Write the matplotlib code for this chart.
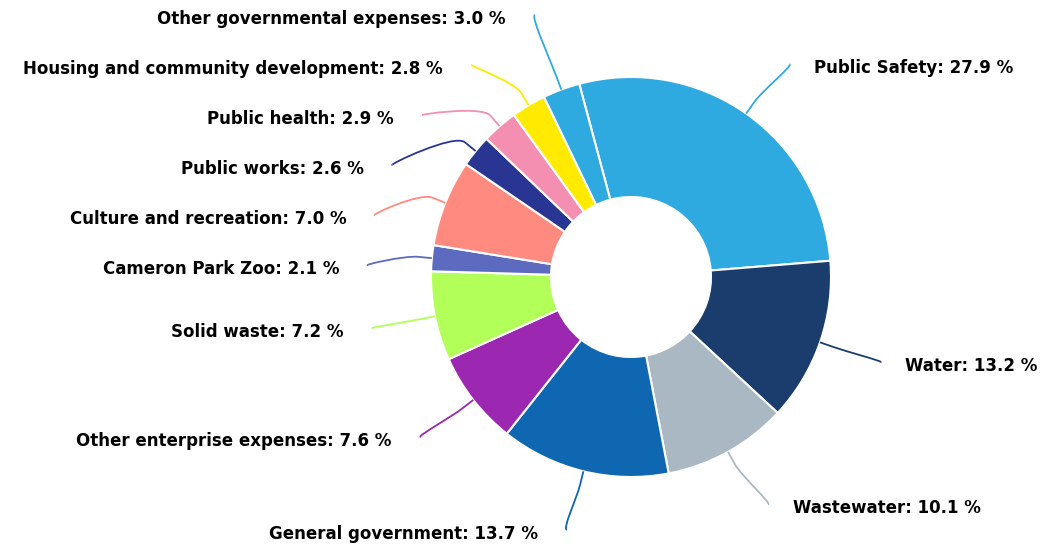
import numpy as np
import matplotlib.pyplot as plt
from matplotlib.path import Path
from matplotlib.patches import PathPatch

# === Data ===
categories = ["Public Safety", "Water", "Wastewater", "General government",
              "Other enterprise expenses", "Solid waste", "Cameron Park Zoo",
              "Culture and recreation", "Public works", "Public health",
              "Housing and community development", "Other governmental expenses"]
shares = [27.9, 13.2, 10.1, 13.7, 7.6, 7.2, 2.1, 7.0, 2.6, 2.9, 2.8, 3.0]
colors = ["#2eaae1", "#1b3d6d", "#a9b8c2", "#0e67b0", "#9c27b0", "#b2ff59",
          "#5c6bc0", "#ff8a80", "#283593", "#f48fb1", "#ffea00", "#2eaae1"]

# === Layout (pixels) ===
W, H = 1045, 545
cx, cy = 631, H - 277
R = 200


def spread(targets, step=50, lo=15, hi=530):
    # merge overlapping labels into blocks placed around their targets
    blocks = [[t] for t in targets]
    while True:
        pos = []
        for b in blocks:
            p = np.mean([t - k * step for k, t in enumerate(b)])
            pos.append(min(max(p, lo), hi - (len(b) - 1) * step))
        for i in range(len(blocks) - 1):
            if pos[i] + len(blocks[i]) * step > pos[i + 1]:
                blocks[i] = blocks[i] + blocks.pop(i + 1)
                break
        else:
            break
    out = []
    for b, p in zip(blocks, pos):
        out += [p + k * step for k in range(len(b))]
    return out


fig = plt.figure(figsize=(W / 100, H / 100), dpi=100)
ax = fig.add_axes([0, 0, 1, 1])

wedges, _ = ax.pie(shares, colors=colors, startangle=105, counterclock=False,
                   radius=R, center=(cx, cy), frame=True,
                   wedgeprops=dict(width=0.6 * R, edgecolor="white", linewidth=1.5))
ax.set_xlim(0, W)
ax.set_ylim(0, H)
ax.set_aspect("equal")
ax.axis("off")

# === Data labels with soft connectors ===
mids = [np.radians((w.theta1 + w.theta2) / 2) for w in wedges]
for side in ("left", "right"):
    idx = [i for i, t in enumerate(mids) if (np.cos(t) < 0) == (side == "left")]
    # work in pixel rows (top = 0)
    idx.sort(key=lambda i: -np.sin(mids[i]))
    targets = [H - (cy + 260 * np.sin(mids[i])) for i in idx]
    ys = spread(targets)
    sgn = -1 if side == "left" else 1
    for i, yd in zip(idx, ys):
        t = mids[i]
        dy = yd - (H - cy)
        if abs(dy) > 240:
            xl = cx + 290 * np.cos(t)
        else:
            xl = cx + sgn * np.sqrt(268 ** 2 - dy ** 2)
        yl = H - yd
        tx, ty = cx + R * np.cos(t), cy + R * np.sin(t)
        bx, by = cx + (R + 14) * np.cos(t), cy + (R + 14) * np.sin(t)
        verts = [(xl - sgn * 5, yl), (xl, yl), (2 * bx - tx, 2 * by - ty), (bx, by), (tx, ty)]
        codes = [Path.MOVETO, Path.CURVE4, Path.CURVE4, Path.CURVE4, Path.LINETO]
        ax.add_patch(PathPatch(Path(verts, codes), fc="none", ec=colors[i], lw=1.3))
        gap = 24 if side == "left" else 20
        ax.text(xl + sgn * gap, yl - 4, f"{categories[i]}: {shares[i]:.1f} %",
                ha="right" if side == "left" else "left", va="center",
                fontsize=12, fontweight="bold", color="black")

plt.savefig("out.png", dpi=100)
